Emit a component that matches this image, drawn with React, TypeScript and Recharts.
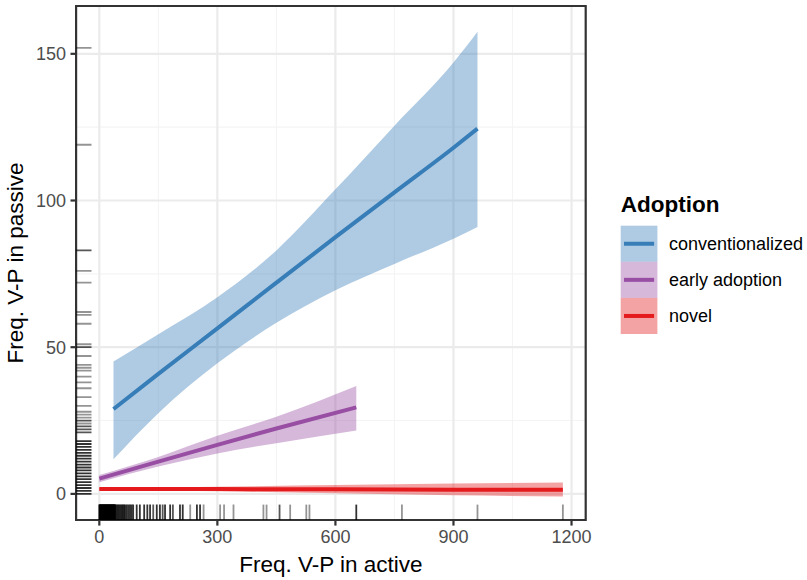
import React from "react";
import {
  ComposedChart,
  Area,
  Line,
  Scatter,
  XAxis,
  YAxis,
  CartesianGrid,
  ReferenceArea,
} from "recharts";

// ---------- data ----------
const seriesNames = ["conventionalized", "early adoption", "novel"];
const seriesColors = ["#377EB8", "#984EA3", "#E41A1C"];

const convX = [36, 150, 300, 450, 600, 750, 900, 961];
const convFit = [28.9, 40.9, 56.4, 72.0, 87.5, 102.8, 118.0, 124.5];
const convLo = [11.8, 27.5, 44.5, 58.3, 69.4, 78.4, 87.0, 91.0];
const convHi = [45.1, 54.4, 67.0, 83.0, 103.8, 125.5, 147.0, 157.5];

const earlyX = [0, 150, 300, 450, 653];
const earlyFit = [5.2, 11.0, 16.7, 22.3, 29.5];
const earlyLo = [4.0, 9.3, 13.8, 17.3, 21.6];
const earlyHi = [6.4, 12.6, 19.8, 26.3, 36.8];

const novelX = [0, 300, 600, 900, 1178];
const novelFit = [1.7, 1.65, 1.55, 1.45, 1.4];
const novelLo = [1.4, 0.9, 0.2, -0.5, -0.9];
const novelHi = [2.0, 2.4, 3.0, 3.5, 3.9];

// rug on x (active frequency): value, count
const rugXValues = [
  0, 1, 2, 3, 4, 5, 6, 7, 8, 9, 10, 11, 12, 13, 14, 15, 16, 17, 18, 19, 20,
  21, 22, 23, 24, 25, 26, 27, 28, 29, 30, 31, 32, 33, 34, 35, 36, 37, 38, 39,
  40, 42, 45, 48, 51, 54, 57, 60, 63, 66, 70, 74, 78, 82, 86, 95, 103, 114,
  122, 129, 137, 146, 154, 161, 167, 180, 187, 205, 212, 231, 248, 256, 265,
  307, 317, 341, 417, 425, 458, 485, 526, 534, 653, 769, 961, 1178,
];
const rugXCounts = [
  3, 3, 3, 3, 3, 3, 3, 3, 3, 3, 3, 3, 3, 3, 3, 3, 3, 3, 3, 3, 3,
  3, 3, 3, 3, 3, 3, 3, 3, 3, 3, 3, 3, 3, 3, 3, 3, 3, 3, 3,
  3, 3, 3, 3, 3, 3, 3, 3, 3, 3, 3, 3, 3, 3, 3, 3, 3, 3,
  3, 3, 2, 3, 3, 2, 3, 3, 2, 3, 3, 1, 3, 3, 1,
  1, 1, 1, 1, 1, 2, 1, 1, 1, 3, 1, 1, 1,
];

// rug on y (passive frequency): value, count
const rugYValues = [
  0, 1, 2, 3, 4, 5, 6, 7, 8, 9, 10, 11, 12, 13, 14, 15, 16, 17, 18,
  21, 22, 23, 24, 25, 26, 27, 28, 30, 33, 36, 38, 40, 42, 43, 44, 47, 50,
  51, 58, 61, 62, 72, 76, 83, 119, 152,
];
const rugYCounts = [
  3, 3, 3, 3, 3, 3, 3, 3, 3, 3, 3, 3, 3, 3, 3, 3, 3, 3, 3,
  2, 2, 2, 1, 2, 1, 1, 1, 1, 1, 1, 1, 1, 1, 1, 1, 1, 2,
  1, 1, 1, 1, 1, 1, 2, 1, 1,
];

const xTicks = [0, 300, 600, 900, 1200];
const yTicks = [0, 50, 100, 150];
const xMinor = [150, 450, 750, 1050];
const yMinor = [25, 75, 125];
const X_DOMAIN: [number, number] = [-59, 1236];
const Y_DOMAIN: [number, number] = [-8.9, 166.3];

// ---------- tables ----------
const mk = (xs: number[], fit: number[], lo: number[], hi: number[]) =>
  xs.map((x, i) => ({ x, fit: fit[i], band: [lo[i], hi[i]] }));
const convData = mk(convX, convFit, convLo, convHi);
const earlyData = mk(earlyX, earlyFit, earlyLo, earlyHi);
const novelData = mk(novelX, novelFit, novelLo, novelHi);
const seriesData = [convData, earlyData, novelData];

const rugXData = rugXValues.map((v, i) => ({ x: v, y: Y_DOMAIN[0], n: rugXCounts[i] }));
const rugYData = rugYValues.map((v, i) => ({ x: X_DOMAIN[0], y: v, n: rugYCounts[i] }));

const FONT = "'Liberation Sans', Arial, Helvetica, sans-serif";
const RUG_LEN = 15.4;
const RUG_ALPHA = 0.42;
const rugOpacity = (n: number) => 1 - Math.pow(1 - RUG_ALPHA, n);

const RugX = (props: any) => {
  const { cx, cy, payload } = props;
  if (cx == null || cy == null) return null;
  return (
    <line
      x1={cx}
      x2={cx}
      y1={cy}
      y2={cy - RUG_LEN}
      stroke="#000"
      strokeWidth={1.8}
      strokeOpacity={rugOpacity(payload.n)}
    />
  );
};

const RugY = (props: any) => {
  const { cx, cy, payload } = props;
  if (cx == null || cy == null) return null;
  return (
    <line
      x1={cx}
      x2={cx + RUG_LEN}
      y1={cy}
      y2={cy}
      stroke="#000"
      strokeWidth={1.8}
      strokeOpacity={rugOpacity(payload.n)}
    />
  );
};

const XTitle = (props: any) => {
  const vb = props.viewBox || { x: 76, y: 520, width: 510, height: 60 };
  return (
    <text
      x={vb.x + vb.width / 2}
      y={vb.y + 52.3}
      textAnchor="middle"
      fontFamily={FONT}
      fontSize={22.5}
      fill="#000"
    >
      Freq. V-P in active
    </text>
  );
};

const YTitle = (props: any) => {
  const vb = props.viewBox || { x: 0, y: 6, width: 76, height: 514 };
  const cx = 23.3;
  const cy = vb.y + vb.height / 2;
  return (
    <text
      x={cx}
      y={cy}
      transform={`rotate(-90, ${cx}, ${cy})`}
      textAnchor="middle"
      fontFamily={FONT}
      fontSize={22.5}
      fill="#000"
    >
      Freq. V-P in passive
    </text>
  );
};

const LegendBox = () => {
  const left = 620.7;
  const top = 225.7;
  const keyW = 36.7;
  const keyH = 36.1;
  return (
    <svg
      width={807}
      height={580}
      style={{ position: "absolute", left: 0, top: 0, pointerEvents: "none" }}
    >
      <text x={left} y={211.7} fontFamily={FONT} fontSize={22.5} fontWeight="bold" fill="#000">
        Adoption
      </text>
      {seriesNames.map((name, i) => (
        <g key={name}>
          <rect
            x={left}
            y={top + i * keyH}
            width={keyW}
            height={keyH}
            fill={seriesColors[i]}
            fillOpacity={0.4}
          />
          <line
            x1={left + 3.3}
            x2={left + keyW - 3.3}
            y1={top + i * keyH + keyH / 2}
            y2={top + i * keyH + keyH / 2}
            stroke={seriesColors[i]}
            strokeWidth={4}
          />
          <text
            x={669}
            y={top + i * keyH + keyH / 2 + 6.4}
            fontFamily={FONT}
            fontSize={18}
            fill="#000"
          >
            {name}
          </text>
        </g>
      ))}
    </svg>
  );
};

export default function App() {
  return (
    <div
      style={{
        position: "absolute",
        left: 0,
        top: 0,
        width: 807,
        height: 580,
        background: "#fff",
        fontFamily: FONT,
      }}
    >
      <ComposedChart
        width={807}
        height={580}
        margin={{ top: 6, right: 221.3, bottom: 0, left: 0.1 }}
      >
        <CartesianGrid
          horizontalValues={yMinor}
          verticalValues={xMinor}
          stroke="#F4F4F4"
          strokeWidth={1.1}
          strokeDasharray=""
        />
        <CartesianGrid
          horizontalValues={yTicks}
          verticalValues={xTicks}
          stroke="#EBEBEB"
          strokeWidth={2.2}
          strokeDasharray=""
        />
        <XAxis
          type="number"
          dataKey="x"
          domain={X_DOMAIN}
          ticks={xTicks}
          interval={0}
          allowDataOverflow
          height={60}
          axisLine={false}
          tickSize={5.6}
          tickMargin={4.5}
          tickLine={{ stroke: "#333333", strokeWidth: 2.2 }}
          tick={{ fill: "#4D4D4D", fontSize: 18, fontFamily: FONT }}
          label={<XTitle />}
        />
        <YAxis
          type="number"
          dataKey="y"
          domain={Y_DOMAIN}
          ticks={yTicks}
          interval={0}
          allowDataOverflow
          width={76}
          axisLine={false}
          tickSize={5.6}
          tickMargin={4.5}
          tickLine={{ stroke: "#333333", strokeWidth: 2.2 }}
          tick={{ fill: "#4D4D4D", fontSize: 18, fontFamily: FONT }}
          label={<YTitle />}
        />
        {seriesData.map((d, i) => (
          <Area
            key={`band-${i}`}
            data={d}
            dataKey="band"
            type="monotone"
            stroke="none"
            fill={seriesColors[i]}
            fillOpacity={0.4}
            isAnimationActive={false}
            activeDot={false}
            legendType="none"
          />
        ))}
        {seriesData.map((d, i) => (
          <Line
            key={`fit-${i}`}
            data={d}
            dataKey="fit"
            type="monotone"
            stroke={seriesColors[i]}
            strokeWidth={4}
            dot={false}
            activeDot={false}
            isAnimationActive={false}
            name={seriesNames[i]}
          />
        ))}
        <Scatter data={rugXData} dataKey="y" shape={<RugX />} isAnimationActive={false} />
        <Scatter data={rugYData} dataKey="y" shape={<RugY />} isAnimationActive={false} />
        <ReferenceArea
          x1={X_DOMAIN[0]}
          x2={X_DOMAIN[1]}
          y1={Y_DOMAIN[0]}
          y2={Y_DOMAIN[1]}
          fill="none"
          stroke="#333333"
          strokeWidth={2.2}
          ifOverflow="visible"
        />
      </ComposedChart>
      <LegendBox />
    </div>
  );
}
